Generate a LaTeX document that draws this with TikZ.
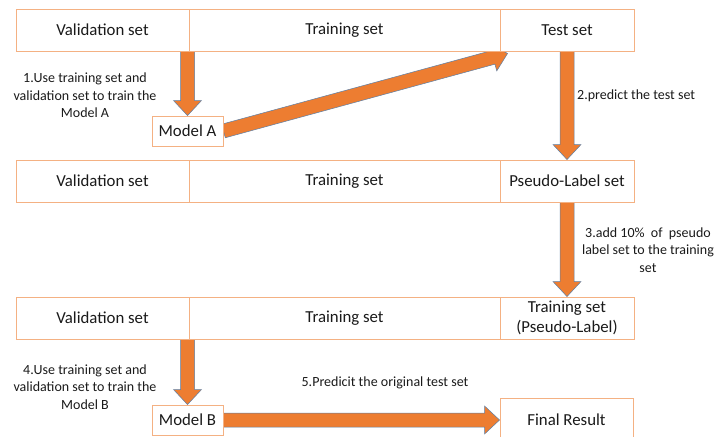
\documentclass[tikz,border=0pt]{standalone}
\usepackage{fontspec}
\setmainfont{Carlito}
\usetikzlibrary{calc,backgrounds,shadows}
\definecolor{boxc}{HTML}{F4B183}
\definecolor{arrc}{HTML}{ED7D31}
\definecolor{arrl}{HTML}{5B7FA6}
\definecolor{txt}{HTML}{1A1A1A}
\newcommand\fashaft{7pt}
\newcommand\fawing{14pt}
\newcommand\fahead{15pt}
\newcommand\fatarrow[2]{%
  \coordinate (fa-h) at ($(#2)!\fahead!(#1)$);
  \draw[fatarr] ($(#1)!\fashaft!90:(#2)$) -- ($(fa-h)!\fashaft!-90:(#1)$) -- ($(fa-h)!\fawing!-90:(#1)$) -- (#2) -- ($(fa-h)!\fawing!90:(#1)$) -- ($(fa-h)!\fashaft!90:(#1)$) -- ($(#1)!\fashaft!-90:(#2)$) -- cycle;}
\begin{document}
\begin{tikzpicture}[x=1pt,y=-1pt,
  cell/.style={draw=boxc, fill=white, line width=0.9pt, minimum height=42pt, inner sep=0pt, font=\fontsize{16.8}{20}\selectfont, text=txt,
    drop shadow={shadow xshift=0.6pt, shadow yshift=-1.2pt, opacity=0.18}},
  small/.style={cell, minimum height=30pt},
  lbl/.style={align=center, font=\fontsize{14}{17.5}\selectfont, text=txt, inner sep=0pt},
  fatarr/.style={fill=arrc, draw=arrl, line width=0.5pt, line join=miter}]
\useasboundingbox (0,0) rectangle (716,437);
% row 1
\node[cell, minimum width=173pt] (r1v) at (102.5,30) {Validation set};
\node[cell, minimum width=311pt] (r1t) at (344.5,30) {Training set};
\node[cell, minimum width=134pt] (r1s) at (567,30) {Test set};
% row 2
\node[cell, minimum width=173pt] (r2v) at (102.5,181) {Validation set};
\node[cell, minimum width=311pt] (r2t) at (344.5,181) {Training set};
\node[cell, minimum width=134pt] (r2s) at (567,181) {Pseudo-Label set};
% row 3
\node[cell, minimum width=173pt] (r3v) at (102.5,318) {Validation set};
\node[cell, minimum width=311pt] (r3t) at (344.5,318) {Training set};
\node[cell, minimum width=134pt, align=center, font=\fontsize{16.8}{20.5}\selectfont] (r3s) at (567,318) {Training set\\(Pseudo-Label)};
% models
\node[small, minimum width=71pt] (ma) at (187.5,131) {Model A};
\node[small, minimum width=71pt] (mb) at (187.5,420) {Model B};
\node[cell, minimum width=133pt, minimum height=44pt] (fr) at (566.5,420) {Final Result};
% labels
\node[lbl] (l1) at (85,95.5) {1.Use training set and\\validation set to train the\\Model A};
\node[lbl, anchor=west] (l2) at (577,96) {2.predict the test set};
\node[lbl] (l3) at (648,250) {3.add 10\%\ \ of\ \ pseudo\\label set to the training\\set};
\node[lbl] (l4) at (85,387) {4.Use training set and\\validation set to train the\\Model B};
\node[lbl] (l5) at (385,383) {5.Predicit the original test set};
% connectors
\coordinate (a1s) at (ma.north |- r1v.south);
\coordinate (a2e) at ($(r1s.south west)+(8,2)$);
\coordinate (a5s) at (mb.north |- r3v.south);
\coordinate (a6e) at (fr.west |- mb.east);
\begin{scope}[on background layer]
\fatarrow{a1s}{ma.north}
\fatarrow{ma.east}{a2e}
\fatarrow{r1s.south}{r2s.north}
\fatarrow{r2s.south}{r3s.north}
\fatarrow{a5s}{mb.north}
\fatarrow{mb.east}{a6e}
\end{scope}
\end{tikzpicture}
\end{document}
